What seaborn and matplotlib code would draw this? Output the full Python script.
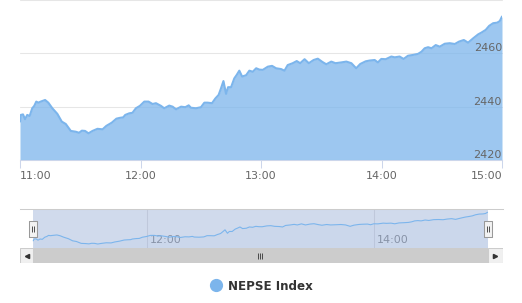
import matplotlib
matplotlib.use("Agg")
import matplotlib.pyplot as plt
import seaborn as sns
import pandas as pd
from matplotlib.lines import Line2D
from matplotlib import transforms as mtransforms

# ---------------- data ----------------
minutes_after_11 = [
    0, 0.4, 1.5, 2.5, 3.6, 4.8, 6.1, 7.1, 8.1, 9.1,
    10.3, 12.5, 14.1, 16.1, 18.6, 20.8, 22.8, 25.3, 27.8, 29.4,
    30.8, 32.4, 34.1, 36.1, 38.6, 41.1, 43.0, 45.7, 48.0, 49.7,
    51.4, 52.4, 54.4, 56.0, 57.7, 59.7, 61.9, 64.0, 66.0, 67.7,
    70.2, 71.8, 74.3, 76.0, 77.7, 80.2, 82.3, 84.0, 85.1, 87.6,
    90.1, 91.8, 93.4, 95.6, 97.3, 98.9, 100.1, 101.3, 102.6, 103.6,
    105.1, 106.7, 107.9, 109.2, 110.6, 112.6, 114.2, 115.9, 117.6, 119.2,
    120.9, 123.4, 125.5, 127.5, 130.0, 131.7, 133.3, 135.8, 137.8, 139.5,
    141.7, 143.8, 146.2, 148.3, 150.5, 152.5, 155.0, 157.1, 160.0, 162.5,
    165.0, 167.4, 169.4, 172.1, 174.1, 176.6, 178.2, 179.9, 182.1, 184.9,
    186.6, 189.0, 191.0, 193.2, 195.7, 198.2, 199.9, 201.5, 203.2, 204.9,
    207.0, 209.0, 211.5, 214.0, 216.5, 218.6, 221.0, 223.1, 225.6, 228.1,
    229.8, 231.9, 233.6, 235.6, 237.6, 238.9, 240.0,
]
nepse_index = [
    2434.4, 2436.9, 2437.1, 2435.3, 2436.9, 2436.5, 2439.4, 2440.3, 2441.9, 2441.5,
    2441.9, 2442.5, 2441.5, 2439.4, 2437.3, 2434.4, 2433.5, 2430.9, 2430.6, 2430.2,
    2431.0, 2430.9, 2430.0, 2430.9, 2431.7, 2431.5, 2432.8, 2434.0, 2435.5, 2435.8,
    2436.0, 2436.9, 2437.5, 2437.7, 2439.4, 2440.3, 2441.9, 2441.9, 2441.0, 2441.3,
    2440.3, 2439.4, 2440.4, 2440.0, 2439.0, 2440.0, 2439.8, 2440.5, 2439.6, 2439.4,
    2439.8, 2441.5, 2441.5, 2441.3, 2443.1, 2444.4, 2446.9, 2449.6, 2444.8, 2447.3,
    2447.3, 2450.6, 2451.9, 2453.5, 2451.3, 2451.8, 2453.5, 2453.1, 2454.4, 2453.9,
    2453.8, 2455.0, 2455.3, 2454.4, 2454.1, 2453.5, 2455.6, 2456.3, 2457.1, 2456.3,
    2457.8, 2456.3, 2457.5, 2458.0, 2456.8, 2455.9, 2456.9, 2456.3, 2456.6, 2456.9,
    2456.3, 2454.4, 2456.0, 2457.0, 2457.3, 2457.5, 2456.6, 2457.9, 2457.8, 2458.8,
    2458.5, 2458.8, 2457.9, 2459.1, 2459.4, 2459.8, 2460.6, 2461.9, 2462.3, 2461.9,
    2463.1, 2462.5, 2463.6, 2463.8, 2463.5, 2464.4, 2465.0, 2464.0, 2465.6, 2467.1,
    2467.8, 2468.8, 2470.3, 2471.3, 2471.5, 2472.1, 2473.8,
]
x_tick_minutes = [0, 60, 120, 180, 240]
x_tick_labels = ["11:00", "12:00", "13:00", "14:00", "15:00"]
y_ticks = [2420, 2440, 2460, 2480]
y_tick_labels = ["2420", "2440", "2460", ""]
nav_tick_minutes = [60, 180]
nav_tick_labels = ["12:00", "14:00"]
series_name = "NEPSE Index"

# ---------------- style ----------------
LINE = "#7cb5ec"
GRID = "#e6e6e6"
AXIS = "#ccd6eb"
LABEL = "#666666"

sns.set_theme(style="white")
plt.rcParams["font.family"] = ["DejaVu Sans"]

df = pd.DataFrame({"minute": minutes_after_11, "value": nepse_index})
t0, t1 = df["minute"].min(), df["minute"].max()

W, H = 522, 303
fig = plt.figure(figsize=(W / 100, H / 100), dpi=100)
fig.patch.set_facecolor("white")


def rect(l, t, r, b):
    return [l / W, 1 - b / H, (r - l) / W, (b - t) / H]


def px_offset(dx, dy=0):
    return mtransforms.ScaledTranslation(dx / 100, dy / 100, fig.dpi_scale_trans)


# ---------------- main chart ----------------
ax = fig.add_axes(rect(20, 0, 502, 160))
ax.set_facecolor("white")
ax.set_xlim(t0, t1)
ax.set_ylim(y_ticks[0], y_ticks[-1])
ax.grid(False)
for yv in y_ticks:
    ax.axhline(yv, color=GRID, linewidth=0.75, zorder=1, clip_on=False)
ax.fill_between(df["minute"], df["value"], ax.get_ylim()[0], color=LINE,
                alpha=0.75, linewidth=0, zorder=2)
sns.lineplot(data=df, x="minute", y="value", ax=ax, color=LINE,
             linewidth=1.5, zorder=3)
ax.set_xlim(t0, t1)
ax.set_ylim(y_ticks[0], y_ticks[-1])
ax.set_xlabel("")
ax.set_ylabel("")
ax.set_axisbelow(False)
for s in ["top", "left", "right"]:
    ax.spines[s].set_visible(False)
ax.spines["bottom"].set_color(AXIS)
ax.spines["bottom"].set_linewidth(0.75)
ax.spines["bottom"].set_zorder(4)

ax.set_xticks(x_tick_minutes, x_tick_labels)
ax.tick_params(axis="x", bottom=True, direction="out", length=6, width=0.75,
               color=AXIS, labelcolor=LABEL, labelsize=8, pad=2)
xl = ax.get_xticklabels()
xl[0].set_ha("left")
xl[-1].set_ha("right")

ax.set_yticks(y_ticks, y_tick_labels)
ax.tick_params(axis="y", left=False, right=False, labelleft=False,
               labelright=True, length=0, pad=0, labelcolor=LABEL, labelsize=8)
for lbl in ax.get_yticklabels():
    lbl.set_ha("right")
    lbl.set_va("bottom")

# ---------------- navigator ----------------
nav = fig.add_axes(rect(20, 209, 502.7, 248))
nav.set_facecolor("white")
nav_xlim = (t0 - 7.0, t1 + 8.0)
nav_ylim = (df["value"].min() - 5.5, df["value"].max() + 4.5)
nav.set_xticks(nav_tick_minutes, nav_tick_labels)
nav.xaxis.grid(True, color=GRID, linewidth=0.75, zorder=0)
nav.yaxis.grid(False)
nav.set_axisbelow(True)
nav.fill_between(df["minute"], df["value"], nav_ylim[0], color=LINE,
                 alpha=0.05, linewidth=0, zorder=1)
nav.axvspan(t0, t1, color=(102 / 255, 133 / 255, 194 / 255), alpha=0.3,
            linewidth=0, zorder=2)
sns.lineplot(data=df, x="minute", y="value", ax=nav, color=LINE,
             linewidth=0.8, zorder=3)
nav.set_xlim(*nav_xlim)
nav.set_ylim(*nav_ylim)
nav.set_xlabel("")
nav.set_ylabel("")
nav.set_yticks([])
for s in ["left", "right", "bottom"]:
    nav.spines[s].set_visible(False)
nav.spines["top"].set_color("#cccccc")
nav.spines["top"].set_linewidth(0.75)
nav.tick_params(axis="x", bottom=False, length=0, pad=-9.5,
                labelcolor="#999999", labelsize=8)
for lbl in nav.get_xticklabels():
    lbl.set_ha("left")
    lbl.set_transform(lbl.get_transform() + px_offset(3))

# handles
handle_marker = [(-4, -7.5), (4, -7.5), (4, 7.5), (-4, 7.5), (-4, -7.5)]
xt = nav.get_xaxis_transform()
for hx in (t0, t1):
    nav.plot([hx], [0.5], transform=xt, marker=handle_marker, markersize=11,
             markerfacecolor="#f2f2f2", markeredgecolor="#999999",
             markeredgewidth=0.75, linestyle="none", zorder=6, clip_on=False)
    for dx in (-1, 1):
        nav.plot([hx], [0.5], transform=xt + px_offset(dx), marker="|",
                 markersize=5, markeredgecolor="#333333",
                 markeredgewidth=0.6, linestyle="none", zorder=7, clip_on=False)

# ---------------- scrollbar ----------------
sb = fig.add_axes(rect(20, 248, 502.7, 263))
sb.set_facecolor("#f2f2f2")
sb.set_xlim(*nav_xlim)
sb.set_ylim(0, 1)
sb.axvspan(t0, t1, color="#cccccc", linewidth=0, zorder=1)
sb.axvspan(nav_xlim[0], t0, facecolor="#f0f0f0", edgecolor="#cccccc",
           linewidth=0.75, zorder=2)
sb.axvspan(t1, nav_xlim[1], facecolor="#f0f0f0", edgecolor="#cccccc",
           linewidth=0.75, zorder=2)
sb.plot([(nav_xlim[0] + t0) / 2], [0.5], marker="<", markersize=3,
        color="#333333", linestyle="none", zorder=3)
sb.plot([(nav_xlim[1] + t1) / 2], [0.5], marker=">", markersize=3,
        color="#333333", linestyle="none", zorder=3)
mid = (t0 + t1) / 2
for dx in (-2, 0, 2):
    sb.plot([mid], [0.5], transform=sb.transData + px_offset(dx), marker="|",
            markersize=4, markeredgecolor="#333333", markeredgewidth=0.6,
            linestyle="none", zorder=3)
sb.set_xticks([])
sb.set_yticks([])
for s in sb.spines.values():
    s.set_visible(False)

# ---------------- legend ----------------
legend_handle = Line2D([], [], marker="o", linestyle="none", color=LINE,
                       markersize=8.5)
fig.legend(handles=[legend_handle], labels=[series_name], loc="center",
           bbox_to_anchor=(261 / W, 1 - 286 / H), frameon=False,
           prop={"weight": "bold", "size": 8.6}, labelcolor="#333333",
           handletextpad=0.5, handlelength=1.0)

fig.savefig("out.png", dpi=100)
